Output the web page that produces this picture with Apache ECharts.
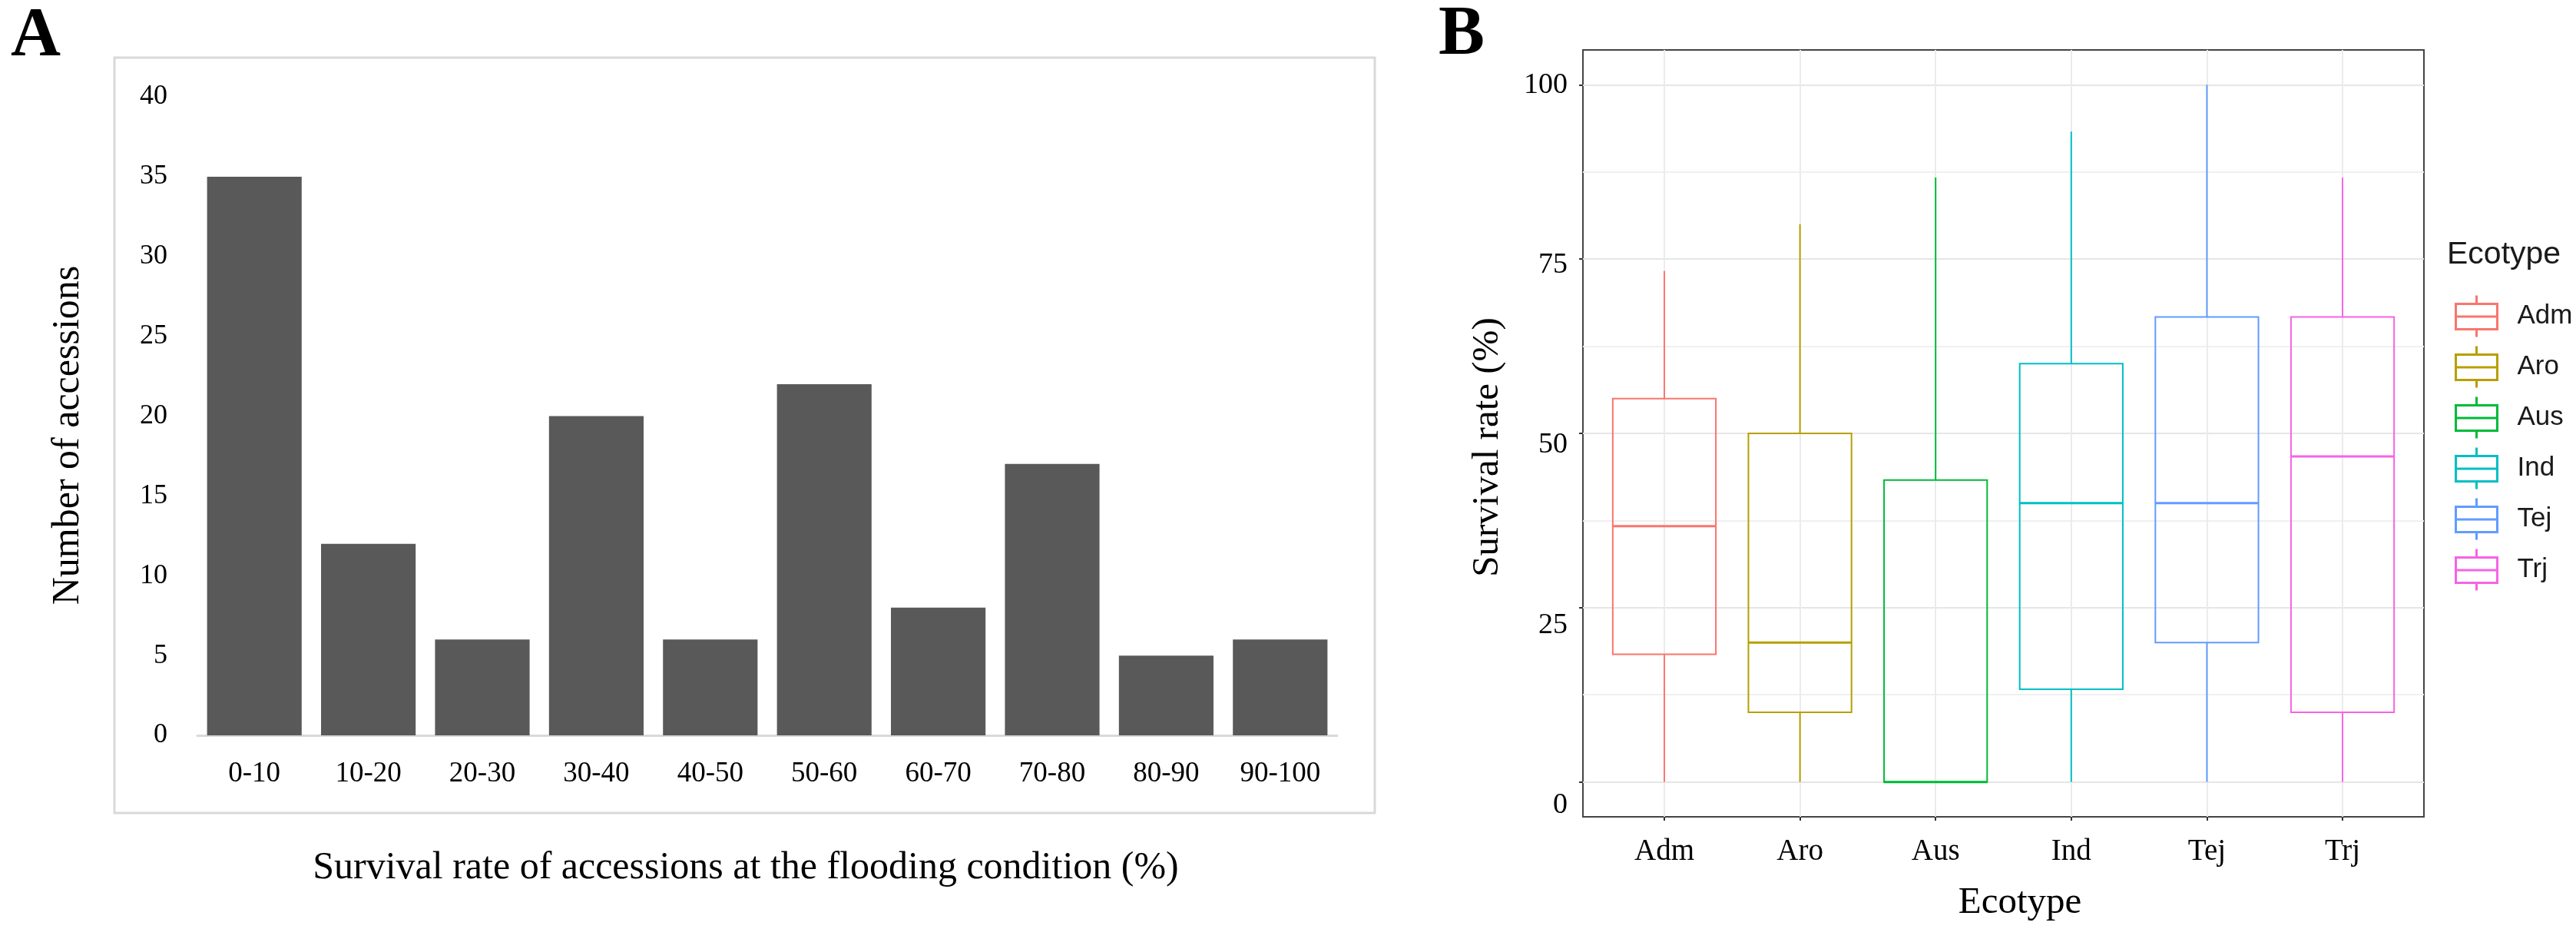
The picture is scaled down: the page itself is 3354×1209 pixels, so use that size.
<!DOCTYPE html>
<html>
<head>
<meta charset="utf-8">
<title>Survival rate of accessions</title>
<script src="https://cdn.jsdelivr.net/npm/echarts@6.0.0/dist/echarts.min.js"></script>
<style>
  html, body { margin: 0; padding: 0; background: #fff; }
  #chart { width: 3354px; height: 1209px; }
</style>
</head>
<body>
<div id="chart"></div>
<script>
// panel A: number of accessions per survival-rate bin
const survivalBins = ["0-10", "10-20", "20-30", "30-40", "40-50", "50-60", "60-70", "70-80", "80-90", "90-100"];
const accessionCounts = [35, 12, 6, 20, 6, 22, 8, 17, 5, 6];

// panel B: box statistics per ecotype (survival rate, %)
const ecotypes = ["Adm", "Aro", "Aus", "Ind", "Tej", "Trj"];
const whiskerLow = [0, 0, 0, 0, 0, 0];
const quartile1 = [18.3, 10, 0, 13.3, 20, 10];
const medians = [36.7, 20, 0, 40, 40, 46.7];
const quartile3 = [55, 50, 43.3, 60, 66.7, 66.7];
const whiskerHigh = [73.3, 80, 86.7, 93.3, 100, 86.7];
const ecotypeColors = ["#F8766D", "#B79F00", "#00BA38", "#00BFC4", "#619CFF", "#F564E3"];
const survivalTicks = [0, 25, 50, 75, 100];
const ecotypePositions = [1, 2, 3, 4, 5, 6];

const SERIF = "'Liberation Serif', 'Times New Roman', serif";
const SANS = "'Liberation Sans', Arial, sans-serif";

// legend key like ggplot's boxplot glyph
const boxGlyph = "path://M27,0L27,11M0,11L54,11L54,44L0,44ZM0,27.5L54,27.5M27,44L27,54";

// box without whisker caps (ggplot style)
function renderBox(params, api) {
  const x = api.value(0);
  const lo = api.coord([x, api.value(1)]);
  const q1 = api.coord([x, api.value(2)]);
  const md = api.coord([x, api.value(3)]);
  const q3 = api.coord([x, api.value(4)]);
  const hi = api.coord([x, api.value(5)]);
  const half = api.size([0.76, 0])[0] / 2;
  const color = api.visual("color");
  const thin = { stroke: color, lineWidth: 2, fill: null };
  return {
    type: "group",
    children: [
      { type: "line", shape: { x1: lo[0], y1: lo[1], x2: q1[0], y2: q1[1] }, style: thin },
      { type: "line", shape: { x1: q3[0], y1: q3[1], x2: hi[0], y2: hi[1] }, style: thin },
      { type: "rect", shape: { x: q3[0] - half, y: q3[1], width: half * 2, height: q1[1] - q3[1] }, style: thin },
      { type: "line", shape: { x1: md[0] - half, y1: md[1], x2: md[0] + half, y2: md[1] }, style: { stroke: color, lineWidth: 3 } }
    ]
  };
}

function buildOption() {
  // major grid at multiples of 25, minor at 12.5 offsets (ticks every 2.5 from -5)
  const gridColors = [];
  for (let i = 0; i < 10; i++) {
    gridColors.push(i === 2 ? "#e6e6e6" : i === 7 ? "#f0f0f0" : "rgba(0,0,0,0)");
  }

  const boxSeries = ecotypes.map((name, i) => ({
    type: "custom",
    name: name,
    xAxisIndex: 1,
    yAxisIndex: 1,
    itemStyle: { color: ecotypeColors[i] },
    encode: { x: 0, y: [1, 2, 3, 4, 5] },
    data: [[ecotypePositions[i], whiskerLow[i], quartile1[i], medians[i], quartile3[i], whiskerHigh[i]]],
    renderItem: renderBox
  }));

  return {
    animation: false,
    backgroundColor: "#fff",
    title: [
      { text: "A", left: 14, top: 4, padding: 0, textStyle: { fontFamily: SERIF, fontSize: 90, fontWeight: "bold", color: "#000" } },
      { text: "B", left: 1873, top: 2, padding: 0, textStyle: { fontFamily: SERIF, fontSize: 90, fontWeight: "bold", color: "#000" } },
      { text: "Ecotype", left: 3186, top: 311, padding: 0, textStyle: { fontFamily: SANS, fontSize: 41, fontWeight: "normal", color: "#1a1a1a" } }
    ],
    legend: {
      orient: "vertical",
      left: 3190,
      top: 377,
      itemWidth: 54,
      itemHeight: 54,
      itemGap: 7,
      icon: boxGlyph,
      selectedMode: false,
      textStyle: { fontFamily: SANS, fontSize: 35, color: "#1a1a1a", padding: [0, 0, 0, 21] },
      data: ecotypes.map((name, i) => ({
        name: name,
        itemStyle: { color: "none", borderColor: ecotypeColors[i], borderWidth: 3 }
      }))
    },
    graphic: [
      // outer frame of panel A
      { type: "rect", shape: { x: 149, y: 75, width: 1641, height: 983 }, style: { fill: null, stroke: "#d9d9d9", lineWidth: 3 }, silent: true }
    ],
    grid: [
      { left: 257, top: 126, width: 1484, height: 831, outerBoundsMode: "none" },
      { left: 2061, top: 65, width: 1095, height: 998, show: true, borderColor: "#444", borderWidth: 2, backgroundColor: "transparent", outerBoundsMode: "none" }
    ],
    xAxis: [
      {
        type: "category",
        gridIndex: 0,
        data: survivalBins,
        axisLine: { lineStyle: { color: "#d9d9d9", width: 3 } },
        axisTick: { show: false },
        axisLabel: { fontFamily: SERIF, fontSize: 37, color: "#000", margin: 32, interval: 0 },
        name: "Survival rate of accessions at the flooding condition (%)",
        nameLocation: "middle",
        nameGap: 148,
        nameMoveOverlap: false,
        nameTextStyle: { fontFamily: SERIF, fontSize: 50, color: "#000", padding: [0, 56, 0, 0] }
      },
      {
        type: "value",
        gridIndex: 1,
        position: "bottom",
        min: 0.4,
        max: 6.6,
        axisLine: { show: false, onZero: false },
        axisTick: { customValues: ecotypePositions, length: 5, lineStyle: { color: "#333", width: 2 } },
        axisLabel: {
          customValues: ecotypePositions,
          formatter: (v) => ecotypes[Math.round(v) - 1],
          fontFamily: SERIF, fontSize: 39, color: "#000", margin: 26
        },
        splitLine: { show: true, lineStyle: { color: "#ebebeb", width: 2 } },
        name: "Ecotype",
        nameLocation: "middle",
        nameGap: 88,
        nameMoveOverlap: false,
        nameTextStyle: { fontFamily: SERIF, fontSize: 49, color: "#000", padding: [0, 0, 0, 43] }
      }
    ],
    yAxis: [
      {
        type: "value",
        gridIndex: 0,
        min: 0,
        max: 40,
        interval: 5,
        axisLine: { show: false },
        axisTick: { show: false },
        splitLine: { show: false },
        axisLabel: { fontFamily: SERIF, fontSize: 36, color: "#000", margin: 39 },
        name: "Number of accessions",
        nameLocation: "middle",
        nameGap: 143,
        nameMoveOverlap: false,
        nameTextStyle: { fontFamily: SERIF, fontSize: 50, color: "#000", padding: [0, 50, 0, 0] }
      },
      {
        // data axis of panel B, carries the grid lines
        type: "value",
        gridIndex: 1,
        position: "left",
        offset: 0,
        min: -5,
        max: 105,
        interval: 2.5,
        axisLine: { show: false, onZero: false },
        axisTick: { show: false },
        axisLabel: { show: false },
        splitLine: { show: true, lineStyle: { color: gridColors, width: 2 } }
      },
      {
        // tick marks of panel B
        type: "value",
        gridIndex: 1,
        position: "left",
        offset: 0,
        min: -5,
        max: 105,
        axisLine: { show: false, onZero: false },
        axisTick: { customValues: survivalTicks, length: 5, lineStyle: { color: "#333", width: 2 } },
        axisLabel: { show: false },
        splitLine: { show: false },
        name: "Survival rate (%)",
        nameLocation: "middle",
        nameGap: 99,
        nameMoveOverlap: false,
        nameTextStyle: { fontFamily: SERIF, fontSize: 49, color: "#000", padding: [0, 36, 0, 0] }
      },
      {
        // tick labels of panel B, placed as in the figure
        type: "value",
        gridIndex: 1,
        position: "left",
        offset: 0,
        min: -1.6,
        max: 104.9,
        axisLine: { show: false, onZero: false },
        axisTick: { show: false },
        splitLine: { show: false },
        axisLabel: { customValues: survivalTicks, fontFamily: SERIF, fontSize: 38, color: "#000", margin: 20 }
      }
    ],
    series: [
      {
        type: "bar",
        xAxisIndex: 0,
        yAxisIndex: 0,
        data: accessionCounts,
        barCategoryGap: "17%",
        itemStyle: { color: "#595959" }
      }
    ].concat(boxSeries)
  };
}

const chart = echarts.init(document.getElementById("chart"));
chart.setOption(buildOption());

window.addEventListener("resize", function () {
  chart.resize();
});
</script>
</body>
</html>
